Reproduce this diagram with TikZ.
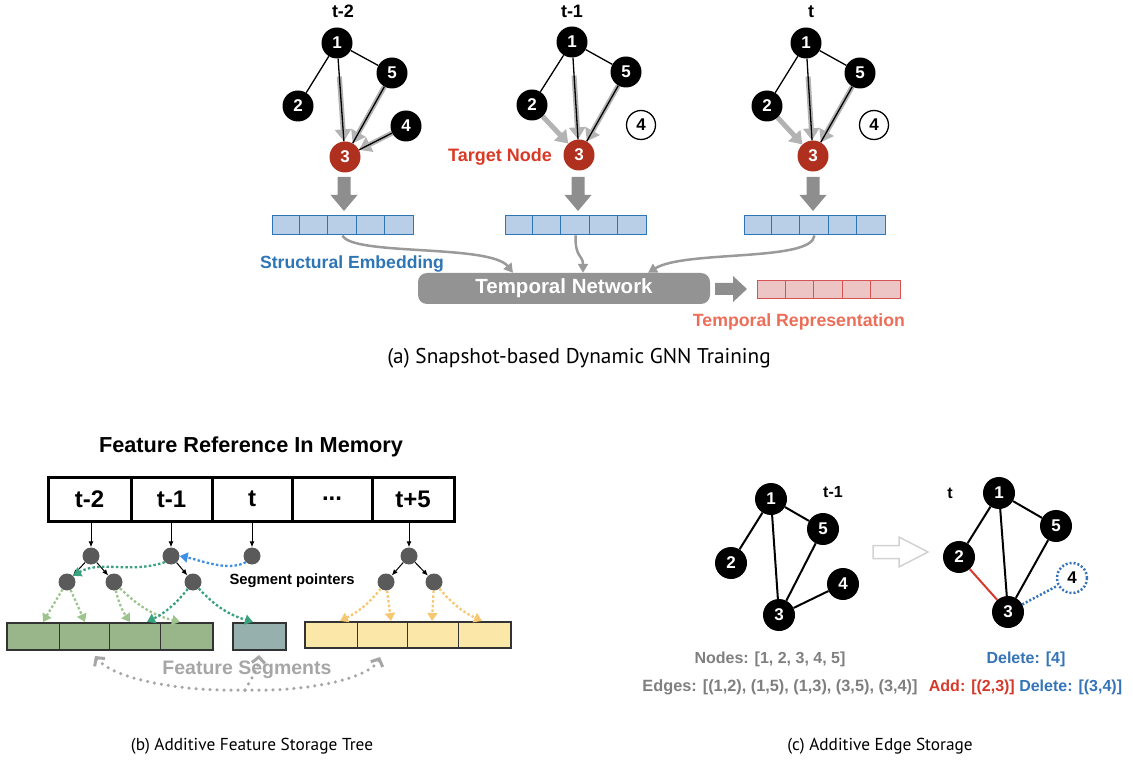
\documentclass[tikz,border=0pt]{standalone}
\usepackage{fontspec}
\newfontfamily\hv{Liberation Sans}
\newfontfamily\capfont{PT Sans}
\usetikzlibrary{arrows.meta,backgrounds,calc}
\definecolor{nodered}{HTML}{B0301F}
\definecolor{tgtred}{HTML}{D93A26}
\definecolor{embblue}{HTML}{2E75B6}
\definecolor{embfill}{HTML}{B8CFE7}
\definecolor{repred}{HTML}{D65353}
\definecolor{repfill}{HTML}{EEC5C5}
\definecolor{reptext}{HTML}{EC6E58}
\definecolor{arrgray}{HTML}{9A9A9A}
\definecolor{agggray}{HTML}{B3B3B3}
\definecolor{tngray}{HTML}{939393}
\definecolor{blkgray}{HTML}{8E8E8E}
\definecolor{treegray}{HTML}{5A5A5A}
\definecolor{lgreen}{HTML}{9CC48C}
\definecolor{dgreen}{HTML}{3AA17F}
\definecolor{orangey}{HTML}{F7C771}
\definecolor{ptrblue}{HTML}{3D8FE6}
\definecolor{gfill}{HTML}{98B68A}
\definecolor{tfill}{HTML}{96B0AE}
\definecolor{yfill}{HTML}{FBE8A9}
\definecolor{fsgray}{HTML}{A6A6A6}
\definecolor{txtgray}{HTML}{7F7F7F}
\definecolor{dblue}{HTML}{3574B8}
\definecolor{addred}{HTML}{D5392A}
\definecolor{hollow}{HTML}{D2D2D2}
\definecolor{barline}{HTML}{333333}
\begin{document}
\begin{tikzpicture}[x=1pt,y=-1pt,
  lbl/.style={font=\hv\bfseries\fontsize{18}{18}\selectfont, inner sep=0pt},
  gn/.style={circle, fill=black, minimum size=31pt, inner sep=0pt, text=white, font=\hv\bfseries\fontsize{17}{17}\selectfont},
  rn/.style={gn, fill=nodered},
  wn/.style={circle, draw=black, line width=1.3pt, fill=white, minimum size=29pt, inner sep=0pt, font=\hv\bfseries\fontsize{17}{17}\selectfont},
  edge/.style={black, line width=1.3pt},
  agg/.style={agggray, line width=5pt, -{Triangle[width=16pt,length=12pt]}},
  emb/.style={draw=embblue, fill=embfill, line width=1pt, minimum width=141pt, minimum height=19pt, inner sep=0pt},
  rep/.style={draw=repred, fill=repfill, line width=1pt, minimum width=143pt, minimum height=18pt, inner sep=0pt},
  curvarr/.style={arrgray, line width=2.5pt, -{Triangle[width=10pt,length=9pt]}},
  captxt/.style={font=\capfont\fontsize{21.3}{24}\selectfont, inner sep=0pt},
  captxtb/.style={font=\capfont\fontsize{17.3}{20}\selectfont, inner sep=0pt},
  memcell/.style={draw=black, line width=3pt, minimum height=44pt, inner sep=0pt, font=\hv\bfseries\fontsize{24}{24}\selectfont},
  tnd/.style={circle, fill=treegray, minimum size=17pt, inner sep=0pt},
  tarr/.style={black, line width=1pt, -{Latex[length=6pt,width=5pt]}},
  dotarr/.style={line width=2.3pt, dash pattern=on 2.5pt off 2.2pt, -{Triangle[width=10pt,length=8pt]}},
  fsarr/.style={fsgray, line width=3.5pt, dash pattern=on 0pt off 7pt, line cap=round, -{Straight Barb[length=6pt,width=13pt,line width=3pt]}},
  segbar/.style={draw=barline, line width=1.2pt, minimum height=27pt, inner sep=0pt},
  bn/.style={circle, fill=black, minimum size=32pt, inner sep=0pt, text=white, font=\hv\bfseries\fontsize{17}{17}\selectfont},
  bedge/.style={black, line width=2pt},
  gtxt/.style={font=\hv\bfseries\fontsize{16}{16}\selectfont, inner sep=0pt},
  downarr/.pic={\fill[blkgray] (-6.5,0) -- (6.5,0) -- (6.5,18) -- (13.5,18) -- (0,34) -- (-13.5,18) -- (-6.5,18) -- cycle;}
]
\useasboundingbox (0,0) rectangle (1133,767);

%%%%%%%%%%%%%%%% (a) %%%%%%%%%%%%%%%%
\node[lbl] (lt2) at (343,11) {t-2};
\node[lbl] (lt1) at (572,11) {t-1};
\node[lbl] (lt0) at (811,12) {t};

% graph t-2
\node[gn] (a1) at (337,43) {1};
\node[gn] (a5) at (392,73) {5};
\node[gn] (a2) at (298,106) {2};
\node[gn] (a4) at (406,126) {4};
\node[rn] (a3) at (345,157) {3};
% graph t-1
\node[gn] (b1) at (572,42) {1};
\node[gn] (b5) at (626,72) {5};
\node[gn] (b2) at (532,105) {2};
\node[wn] (b4) at (641,125) {4};
\node[rn] (b3) at (579,155) {3};
% graph t
\node[gn] (c1) at (806,43) {1};
\node[gn] (c5) at (860,73) {5};
\node[gn] (c2) at (767,106) {2};
\node[wn] (c4) at (874,125) {4};
\node[rn] (c3) at (813,156) {3};

\begin{scope}[on background layer]
  \draw[agg, shorten <=18pt] (a1) -- (a3);
  \draw[agg] (a5) -- (a3);
  \draw[agg] (a4) -- (a3);
  \draw[edge] (a1) -- (a2);
  \draw[edge] (a1) -- (a5);
  \draw[edge] (a1) -- (a3);
  \draw[edge] (a5) -- (a3);
  \draw[edge] (a4) -- (a3);
  \draw[agg] (b2) -- (b3);
  \draw[agg, shorten <=18pt] (b1) -- (b3);
  \draw[agg] (b5) -- (b3);
  \draw[edge] (b1) -- (b2);
  \draw[edge] (b1) -- (b5);
  \draw[edge] (b1) -- (b3);
  \draw[edge] (b5) -- (b3);
  \draw[agg] (c2) -- (c3);
  \draw[agg, shorten <=18pt] (c1) -- (c3);
  \draw[agg] (c5) -- (c3);
  \draw[edge] (c1) -- (c2);
  \draw[edge] (c1) -- (c5);
  \draw[edge] (c1) -- (c3);
  \draw[edge] (c5) -- (c3);
\end{scope}

\node[font=\hv\bfseries\fontsize{18}{18}\selectfont, text=tgtred, inner sep=0pt, anchor=east] (tgt) at (552,157) {Target Node};

\pic at (344,177) {downarr};
\pic at (578,177) {downarr};
\pic at (813,177) {downarr};

\node[emb] (e1) at (342.5,225.5) {};
\node[emb] (e2) at (575.5,225.5) {};
\node[emb] (e3) at (814.5,225.5) {};
\foreach \e in {e1,e2,e3}{
  \foreach \i in {1,...,4}{
    \draw[embblue, line width=1pt] ([xshift=\i*28.2pt]\e.north west) -- ([xshift=\i*28.2pt]\e.south west);
  }
}

\node[font=\hv\bfseries\fontsize{17.6}{17.6}\selectfont, text=embblue, inner sep=0pt] (se) at (352,264) {Structural Embedding};

\node[fill=tngray, rounded corners=9pt, minimum width=292pt, minimum height=31pt, inner sep=0pt, text=white, font=\hv\bfseries\fontsize{20.5}{20.5}\selectfont] (tn) at (564,288.5) {Temporal Network};

\draw[curvarr] (e1.south) .. controls (352,256) and (490,244) .. ($(tn.north)+(-51,0)$);
\draw[curvarr] (e2.south) .. controls (575,258) and (583,255) .. ($(tn.north)+(19,0)$);
\draw[curvarr] (e3.south) .. controls (812,262) and (685,250) .. ($(tn.north)+(84,0)$);

\fill[blkgray] (715,283) -- (733,283) -- (733,276) -- (747,289) -- (733,302) -- (733,295) -- (715,295) -- cycle;

\node[rep] (rp) at (828.5,290) {};
\foreach \i in {1,...,4}{
  \draw[repred, line width=1pt] ([xshift=\i*28.6pt]rp.north west) -- ([xshift=\i*28.6pt]rp.south west);
}
\node[font=\hv\bfseries\fontsize{17.7}{17.7}\selectfont, text=reptext, inner sep=0pt] (trp) at (799,322) {Temporal Representation};

\node[captxt] (capa) at (579,358) {(a) Snapshot-based Dynamic GNN Training};

%%%%%%%%%%%%%%%% (b) %%%%%%%%%%%%%%%%
\node[font=\hv\bfseries\fontsize{21.7}{21.7}\selectfont, inner sep=0pt] (frm) at (251,447) {Feature Reference In Memory};

\node[memcell, minimum width=83pt] (m1) at (89.5,499) {t-2};
\node[memcell, minimum width=81pt] (m2) at (171.5,499) {t-1};
\node[memcell, minimum width=80pt] (m3) at (252,499) {t};
\node[memcell, minimum width=80pt] (m4) at (332,499) {...};
\node[memcell, minimum width=82pt] (m5) at (413,499) {t+5};

\node[tnd] (ta) at (91,556) {};
\node[tnd] (ta1) at (67,582) {};
\node[tnd] (ta2) at (114,582) {};
\node[tnd] (tb) at (171,556) {};
\node[tnd] (tb1) at (193,582) {};
\node[tnd] (tc) at (252,556) {};
\node[tnd] (td) at (409,556) {};
\node[tnd] (td1) at (386,582) {};
\node[tnd] (td2) at (434,582) {};

\draw[tarr] (m1.south -| ta) -- (ta);
\draw[tarr] (m2.south -| tb) -- (tb);
\draw[tarr] (m3.south -| tc) -- (tc);
\draw[tarr] (m5.south -| td) -- (td);
\draw[tarr] (ta) -- (ta1);
\draw[tarr] (ta) -- (ta2);
\draw[tarr] (tb) -- (tb1);
\draw[tarr] (td) -- (td1);
\draw[tarr] (td) -- (td2);

\node[segbar, fill=gfill, minimum width=206pt] (gb) at (110,636.5) {};
\foreach \x in {53,103,154}{
  \draw[barline, line width=1.2pt] ([xshift=\x pt]gb.north west) -- ([xshift=\x pt]gb.south west);
}
\node[segbar, fill=tfill, minimum width=53pt] (tb0) at (259.5,636.5) {};
\node[segbar, fill=yfill, minimum width=206pt, minimum height=26pt] (yb) at (408,635) {};
\foreach \x in {53,103,154}{
  \draw[barline, line width=1.2pt] ([xshift=\x pt]yb.north west) -- ([xshift=\x pt]yb.south west);
}

\coordinate (g1) at (43,622);
\coordinate (g2) at (85,622);
\coordinate (g3) at (130,622);
\coordinate (g4) at (180,622);
\coordinate (g5) at (147,622);
\coordinate (t1) at (253,622);
\coordinate (y1) at (340,621);
\coordinate (y2) at (391,621);
\coordinate (y3) at (432,621);
\coordinate (y4) at (482,621);

\draw[dotarr, lgreen] (ta1) -- (g1);
\draw[dotarr, lgreen] (ta1) -- (g2);
\draw[dotarr, lgreen] (ta2) to[bend right=10] (g3);
\draw[dotarr, lgreen] (ta2) to[bend right=15] (g4);
\draw[dotarr, dgreen] (tb1) to[bend left=12] (g5);
\draw[dotarr, dgreen] (tb1) to[bend right=15] (t1);
\draw[dotarr, orangey] (td1) to[bend left=12] (y1);
\draw[dotarr, orangey] (td1) -- (y2);
\draw[dotarr, orangey] (td2) -- (y3);
\draw[dotarr, orangey] (td2) to[bend right=12] (y4);

\draw[dotarr, ptrblue] (tc.south west) .. controls (228,572) and (200,560) .. (tb.east);
\draw[dotarr, dgreen] (tb.south west) .. controls (130,574) and (100,560) .. (ta1.north east);

\node[font=\hv\bfseries\fontsize{14.8}{14.8}\selectfont, inner sep=0pt] (sp) at (292,581) {Segment pointers};

\coordinate (fs0) at (245,690);
\draw[fsarr] (fs0) .. controls (170,692) and (110,676) .. (95,656);
\draw[fsarr] (fs0) .. controls (252,678) and (258,668) .. (259,655);
\draw[fsarr] (fs0) .. controls (320,692) and (372,675) .. (380,657);
\node[font=\hv\bfseries\fontsize{19.5}{19.5}\selectfont, text=fsgray, inner sep=0pt] (fst) at (247,670) {Feature Segments};

\node[captxtb] (capb) at (252,746) {(b) Additive Feature Storage Tree};

%%%%%%%%%%%%%%%% (c) %%%%%%%%%%%%%%%%
\node[bn] (p1) at (771,499) {1};
\node[bn] (p5) at (823,529) {5};
\node[bn] (p2) at (731,563) {2};
\node[bn] (p4) at (843,584) {4};
\node[bn] (p3) at (779,615) {3};
\node[gtxt] (pt) at (833,492) {t-1};
\begin{scope}[on background layer]
  \draw[bedge] (p1) -- (p2);
  \draw[bedge] (p1) -- (p5);
  \draw[bedge] (p1) -- (p3);
  \draw[bedge] (p5) -- (p3);
  \draw[bedge] (p4) -- (p3);
\end{scope}

\draw[hollow, line width=1.5pt, fill=white] (873,545.5) -- (899,545.5) -- (899,537) -- (928,552) -- (899,567) -- (899,558.5) -- (873,558.5) -- cycle;

\node[bn] (q1) at (999,493) {1};
\node[bn] (q5) at (1056,526) {5};
\node[bn] (q2) at (959,557) {2};
\node[circle, draw=dblue, line width=2.5pt, dash pattern=on 2pt off 2pt, minimum size=30pt, inner sep=0pt, font=\hv\bfseries\fontsize{17}{17}\selectfont] (q4) at (1072,578) {4};
\node[bn] (q3) at (1008,612) {3};
\node[gtxt] (qt) at (950,493) {t};
\begin{scope}[on background layer]
  \draw[bedge] (q1) -- (q2);
  \draw[bedge] (q1) -- (q5);
  \draw[bedge] (q1) -- (q3);
  \draw[bedge] (q5) -- (q3);
  \draw[bedge, addred] (q2) -- (q3);
  \draw[dblue, line width=2.5pt, dash pattern=on 2pt off 2pt] (q3) -- (q4);
\end{scope}

\node[gtxt, text=txtgray] (nl) at (770,659) {Nodes: [1, 2, 3, 4, 5]};
\node[gtxt, text=txtgray, font=\hv\bfseries\fontsize{16.3}{16.3}\selectfont] (el) at (780,687) {Edges: [(1,2), (1,5), (1,3), (3,5), (3,4)]};
\node[gtxt, text=dblue] (dl) at (1026,659) {Delete: [4]};
\node[gtxt] (al) at (1025.5,687) {\color{addred}Add: [(2,3)] \color{dblue}Delete: [(3,4)]};

\node[captxtb] (capc) at (880,746) {(c) Additive Edge Storage};
\end{tikzpicture}
\end{document}
